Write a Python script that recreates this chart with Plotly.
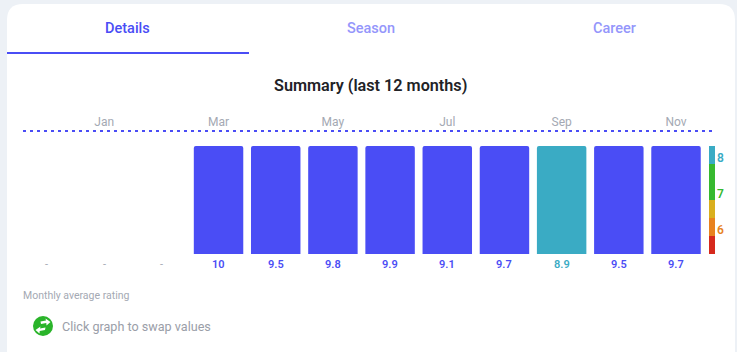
import plotly.graph_objects as go

months = ["Dec", "Jan", "Feb", "Mar", "Apr", "May", "Jun", "Jul", "Aug", "Sep", "Oct", "Nov"]
ratings = [None, None, None, 10, 9.5, 9.8, 9.9, 9.1, 9.7, 8.9, 9.5, 9.7]
rating_labels = ["-", "-", "-", "10", "9.5", "9.8", "9.9", "9.1", "9.7", "8.9", "9.5", "9.7"]
shown_months = ["Jan", "Mar", "May", "Jul", "Sep", "Nov"]
band_low = [5.0, 5.5, 6.0, 6.5, 7.5]
band_high = [5.5, 6.0, 6.5, 7.5, 8.0]
band_colors = ["#d6291c", "#e8821e", "#d9af1e", "#37b92f", "#3aabc4"]
scale_ticks = [5.67, 6.67, 7.67]
scale_labels = ["6", "7", "8"]
scale_label_colors = ["#e8821e", "#37b92f", "#3aabc4"]
AXIS_TOP = 8.0
AXIS_BOTTOM = 5.0

W, H = 737, 352
FONT = "Roboto"
BLUE = "#4a4df5"
TEAL = "#3aabc4"
GREY = "#a4a9b3"


def px(x):
    return x / W


def py(y):
    return 1 - y / H


def bar_color(v):
    if v is None:
        return GREY
    return BLUE if v >= 9 else TEAL


def rounded_card(x0, y0, x1, y1, r):
    return (f"M{px(x0)},{py(y1)} L{px(x0)},{py(y0 + r)} Q{px(x0)},{py(y0)} {px(x0 + r)},{py(y0)} "
            f"L{px(x1 - r)},{py(y0)} Q{px(x1)},{py(y0)} {px(x1)},{py(y0 + r)} L{px(x1)},{py(y1)} Z")


def poly(points):
    return "M" + " L".join(f"{px(x)},{py(y)}" for x, y in points) + " Z"


fig = go.Figure()
fig.add_trace(go.Bar(
    x=months,
    y=[None if v is None else min(v, AXIS_TOP) for v in ratings],
    customdata=ratings,
    width=0.865,
    marker=dict(color=[bar_color(v) for v in ratings], cornerradius=2, line_width=0),
    xaxis="x", yaxis="y", hoverinfo="skip",
))
fig.add_trace(go.Bar(
    x=[0] * len(band_low),
    y=[h - l for l, h in zip(band_low, band_high)],
    base=band_low,
    width=1,
    marker=dict(color=band_colors, line_width=0),
    xaxis="x2", yaxis="y", hoverinfo="skip",
))

annotations = []


def label(x, y, text, size, color, anchor="center", weight=400):
    annotations.append(dict(
        x=px(x), y=py(y), xref="paper", yref="paper", text=text, showarrow=False,
        xanchor=anchor, yanchor="middle", font=dict(family=FONT, size=size, color=color, weight=weight),
    ))


label(128, 28, "Details", 14.5, BLUE, weight=500)
label(371, 28, "Season", 14.5, "#9496fb", weight=500)
label(614, 28, "Career", 14.5, "#9496fb", weight=500)
label(370.5, 85, "Summary (last 12 months)", 16.2, "#222226", weight=600)
label(21, 295, "Monthly average rating", 10.5, GREY, "left")
label(60, 326, "Click graph to swap values", 12.6, "#9a9ea8", "left")

for m, text, v in zip(months, rating_labels, ratings):
    annotations.append(dict(
        x=m, y=AXIS_BOTTOM, xref="x", yref="y", text=text, showarrow=False, yshift=-10,
        xanchor="center", yanchor="middle",
        font=dict(family=FONT, size=11, color=bar_color(v), weight=600 if v is not None else 400),
    ))
for y, text, c in zip(scale_ticks, scale_labels, scale_label_colors):
    annotations.append(dict(
        x=px(720), y=y, xref="paper", yref="y", text=text, showarrow=False,
        xanchor="center", yanchor="middle", font=dict(family=FONT, size=12, color=c, weight=600),
    ))

shapes = [
    dict(type="path", path=rounded_card(7, 4, 735, 360, 16), xref="paper", yref="paper",
         fillcolor="white", line_width=0, layer="below"),
    dict(type="rect", x0=px(7), x1=px(249), y0=py(54), y1=py(52), xref="paper", yref="paper",
         fillcolor=BLUE, line_width=0),
    dict(type="line", x0=px(23), x1=px(713), y0=py(131), y1=py(131), xref="paper", yref="paper",
         line=dict(color=BLUE, width=2, dash="3px,4px")),
    dict(type="circle", x0=px(33), x1=px(53), y0=py(336), y1=py(316), xref="paper", yref="paper",
         fillcolor="#2ab42a", line_width=0),
    dict(type="path", xref="paper", yref="paper", fillcolor="white", line_width=0,
         path=poly([(40.5, 321.5), (46, 320.5), (45.5, 318.5), (50.5, 322), (46.5, 325.5),
                    (46.3, 323), (41, 324)])),
    dict(type="path", xref="paper", yref="paper", fillcolor="white", line_width=0,
         path=poly([(45.5, 327.5), (40, 328.5), (40.5, 326.5), (35.5, 330), (39.5, 333.5),
                    (39.7, 331), (45, 330)])),
]

fig.update_layout(
    width=W, height=H, autosize=False,
    margin=dict(l=0, r=0, t=0, b=0),
    paper_bgcolor="#edf1f6", plot_bgcolor="rgba(0,0,0,0)",
    showlegend=False, barmode="overlay",
    annotations=annotations, shapes=shapes,
    xaxis=dict(
        domain=[px(18.4), px(704.6)], type="category", categoryorder="array", categoryarray=months,
        side="top", tickmode="array", tickvals=shown_months, ticktext=shown_months,
        ticks="outside", ticklen=14, tickcolor="rgba(0,0,0,0)", showgrid=False, zeroline=False, showline=False,
        tickfont=dict(family=FONT, size=12, color=GREY), anchor="y",
    ),
    xaxis2=dict(domain=[px(709), px(715)], range=[-0.5, 0.5], visible=False, anchor="y"),
    yaxis=dict(domain=[py(254), py(146)], range=[AXIS_BOTTOM, AXIS_TOP], visible=False, fixedrange=True),
)
fig.write_html("out.html", config=dict(displayModeBar=False),
               post_script="document.body.style.margin='0';document.documentElement.style.overflow='hidden';")
